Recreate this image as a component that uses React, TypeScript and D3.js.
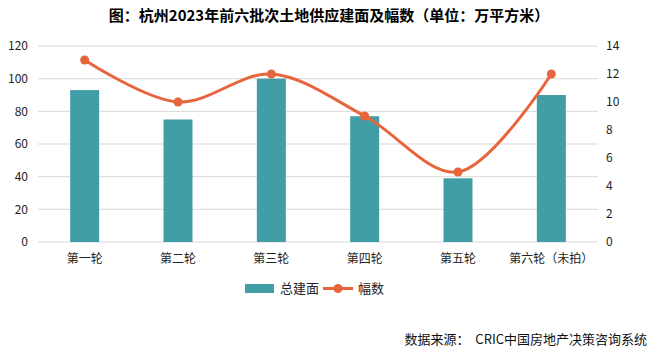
import * as d3 from 'd3';
import { ReactElement } from 'react';

// ─ Data ─────────────────────────────────────────────────────────────────────
const rounds = ['第一轮', '第二轮', '第三轮', '第四轮', '第五轮', '第六轮（未拍）'];
const floorArea = [93, 75, 100, 77, 39, 90];
const parcels = [13, 10, 12, 9, 5, 12];
const leftTicks = [0, 20, 40, 60, 80, 100, 120];
const rightTicks = [0, 2, 4, 6, 8, 10, 12, 14];

const TEAL = '#429EA6';
const ORANGE = '#E8643C';
const FONT = '"Noto Sans CJK SC", "Noto Sans", sans-serif';

const W = 658;
const H = 353;
const margin = { top: 46, right: 60, bottom: 111, left: 38 };

const App = (): ReactElement => {
  const innerW = W - margin.left - margin.right;
  const innerH = H - margin.top - margin.bottom;

  const band = d3.scaleBand().domain(rounds).range([0, innerW]);
  const yL = d3.scaleLinear().domain([0, 120]).range([innerH, 0]);
  const yR = d3.scaleLinear().domain([0, 14]).range([innerH, 0]);

  const cx = (r: string) => (band(r) ?? 0) + band.bandwidth() / 2;
  const barW = 29;

  const line = d3.line<number>()
    .x((_, i) => cx(rounds[i]))
    .y(d => yR(d))
    .curve(d3.curveCatmullRom.alpha(0.5));

  return (
    <svg width={W} height={H} style={{ display: 'block', position: 'absolute', left: 0, top: 0, background: '#fff' }}>
      <text x={329} y={21} textAnchor="middle" fontFamily={FONT} fontWeight="bold" fontSize={15} fill="#000">
        图：杭州2023年前六批次土地供应建面及幅数（单位：万平方米）
      </text>

      <g transform={`translate(${margin.left},${margin.top})`}>
        {leftTicks.map(t => (
          <line key={`g${t}`} x1={0} x2={innerW} y1={yL(t)} y2={yL(t)} stroke="#d9d9d9" strokeWidth={1} />
        ))}
        {leftTicks.map(t => (
          <text key={`l${t}`} x={-10} y={yL(t)} dy="0.35em" textAnchor="end" fontFamily={FONT} fontSize={12} fill="#222">
            {t}
          </text>
        ))}
        {rightTicks.map(t => (
          <text key={`r${t}`} x={innerW + 8} y={yR(t)} dy="0.35em" textAnchor="start" fontFamily={FONT} fontSize={12} fill="#222">
            {t}
          </text>
        ))}

        {rounds.map((r, i) => (
          <rect key={r} x={cx(r) - barW / 2} y={yL(floorArea[i])} width={barW} height={innerH - yL(floorArea[i])} fill={TEAL} />
        ))}

        <path d={line(parcels) ?? ''} fill="none" stroke={ORANGE} strokeWidth={3} />
        {parcels.map((v, i) => (
          <circle key={i} cx={cx(rounds[i])} cy={yR(v)} r={4.5} fill={ORANGE} />
        ))}

        {rounds.map(r => (
          <text key={`x${r}`} x={cx(r)} y={innerH + 21} textAnchor="middle" fontFamily={FONT} fontSize={12} fill="#222">
            {r}
          </text>
        ))}
      </g>

      <g transform="translate(245,284)">
        <rect x={0} y={0} width={29} height={9} fill={TEAL} />
        <text x={35} y={4.5} dy="0.35em" fontFamily={FONT} fontSize={13} fill="#222">总建面</text>
        <line x1={78} x2={108} y1={4.5} y2={4.5} stroke={ORANGE} strokeWidth={3} />
        <circle cx={93} cy={4.5} r={4.5} fill={ORANGE} />
        <text x={113} y={4.5} dy="0.35em" fontFamily={FONT} fontSize={13} fill="#222">幅数</text>
      </g>

      <text x={647} y={339} dy="0.35em" textAnchor="end" fontFamily={FONT} fontSize={13} fill="#111" xmlSpace="preserve">
        数据来源：  CRIC中国房地产决策咨询系统
      </text>
    </svg>
  );
};

export default App;
